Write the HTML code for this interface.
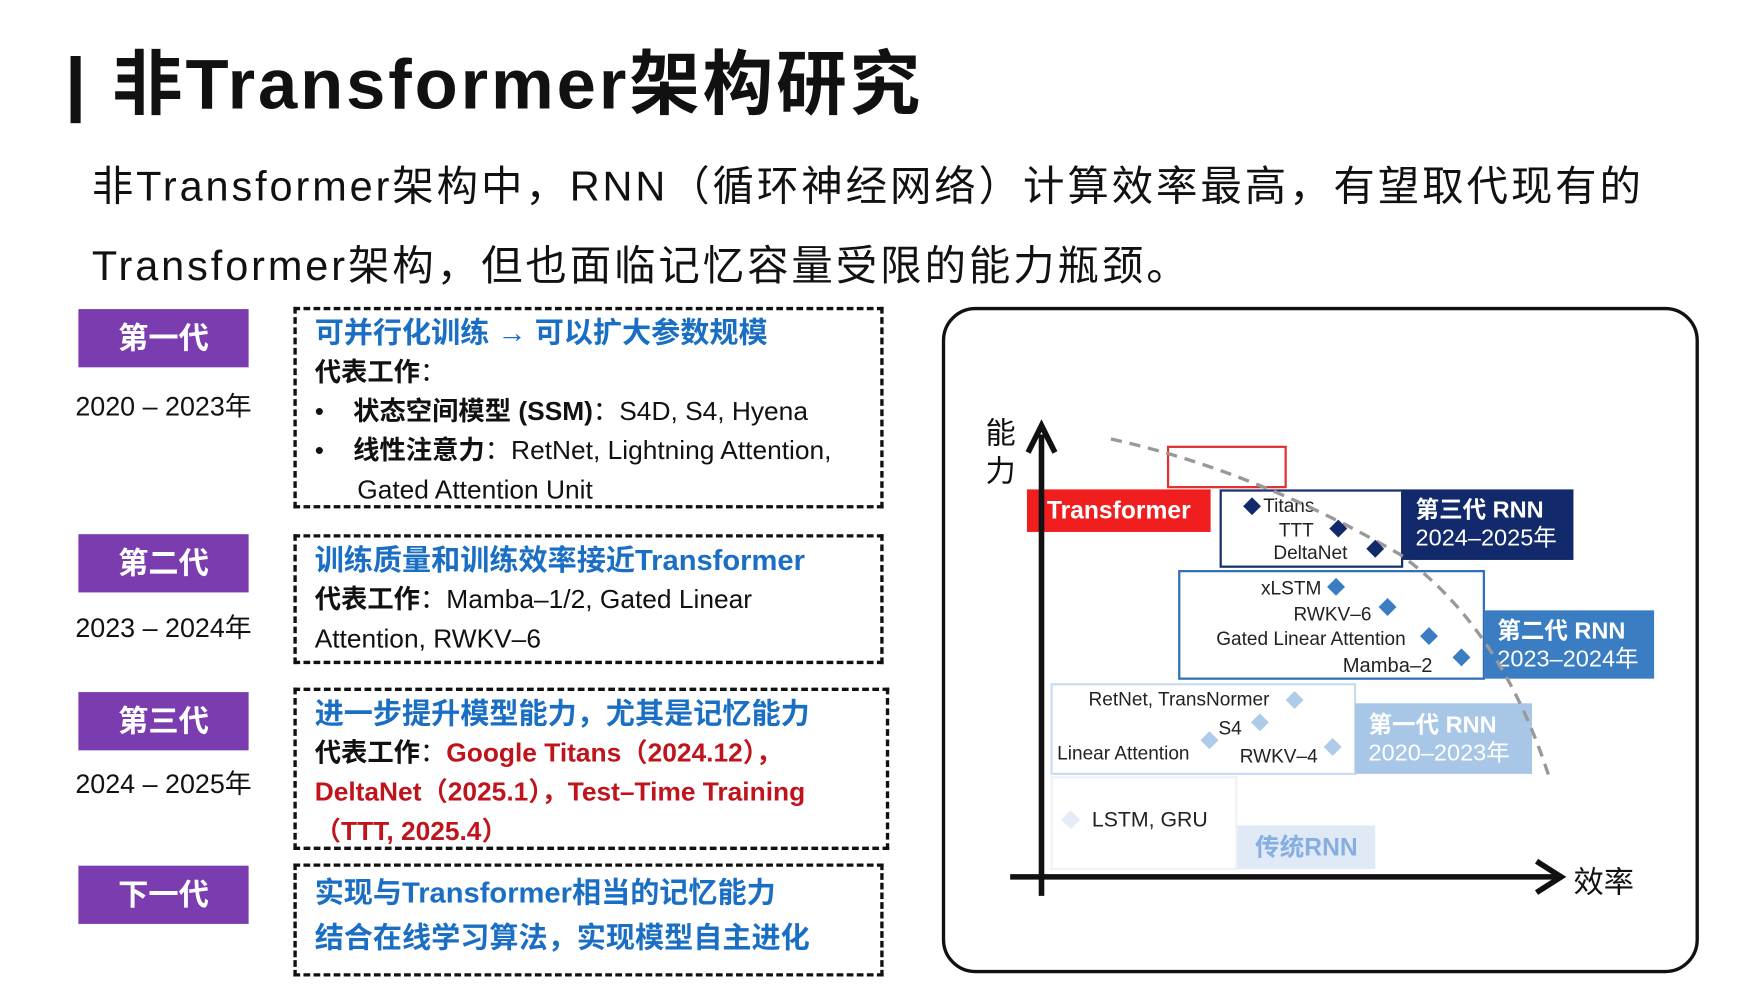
<!DOCTYPE html>
<html><head><meta charset="utf-8"><style>
html,body{margin:0;padding:0;background:#fff;overflow:hidden;width:1756px;height:990px}
#w{position:absolute;left:0;top:0;width:1568px;height:884px;transform:scale(1.11990);transform-origin:0 0;font-family:"Liberation Sans","Noto Sans CJK SC",sans-serif;color:#111}
.a{position:absolute;white-space:nowrap}
.lab{position:absolute;left:70px;width:152px;height:52px;background:#7a3cae;color:#fff;font-size:27px;font-weight:bold;text-align:center;line-height:52px}
.yr{position:absolute;left:46px;width:200px;text-align:center;font-size:24px}
.db{position:absolute;border:3px dashed #111;box-sizing:border-box;padding:3px 16px;font-size:23.5px;line-height:35px;white-space:nowrap}
.bl{color:#1a6fc4;font-weight:bold;font-size:26px}
.rd{color:#c0141c;font-weight:bold}
.bx{position:absolute;box-sizing:border-box;background:#fff}
.sm{position:absolute;font-size:17px;white-space:nowrap;color:#222}
</style></head><body><div id="w">
<div class="a" style="left:63px;top:50px;width:9px;height:60px;background:#111"></div>
<div class="a" style="left:100px;top:38px;font-size:63px;font-weight:bold;line-height:76px;letter-spacing:2.6px">非Transformer架构研究</div>
<div class="a" style="left:82px;top:143px;font-size:37px;line-height:48px;letter-spacing:2.6px">非Transformer架构中，RNN（循环神经网络）计算效率最高，有望取代现有的</div>
<div class="a" style="left:82px;top:214px;font-size:37px;line-height:48px;letter-spacing:2.6px">Transformer架构，但也面临记忆容量受限的能力瓶颈。</div>

<div class="lab" style="top:276px">第一代</div><div class="yr" style="top:343px">2020 – 2023年</div>
<div class="lab" style="top:477px">第二代</div><div class="yr" style="top:541px">2023 – 2024年</div>
<div class="lab" style="top:618px">第三代</div><div class="yr" style="top:680px">2024 – 2025年</div>
<div class="lab" style="top:773px">下一代</div>

<div class="db" style="left:262px;top:274px;width:527px;height:180px"><div class="bl">可并行化训练 → 可以扩大参数规模</div><div><b>代表工作</b>：</div><div>•&nbsp;&nbsp;&nbsp;&nbsp;<b>状态空间模型 (SSM)</b>：S4D, S4, Hyena</div><div>•&nbsp;&nbsp;&nbsp;&nbsp;<b>线性注意力</b>：RetNet, Lightning Attention,</div><div style="padding-left:38px">Gated Attention Unit</div></div>
<div class="db" style="left:262px;top:477px;width:527px;height:116px"><div class="bl">训练质量和训练效率接近Transformer</div><div><b>代表工作</b>：Mamba–1/2, Gated Linear</div><div>Attention, RWKV–6</div></div>
<div class="db" style="left:262px;top:614px;width:532px;height:145px"><div class="bl">进一步提升模型能力，尤其是记忆能力</div><div><b>代表工作</b>：<span class="rd">Google Titans（2024.12），</span></div><div class="rd">DeltaNet（2025.1），Test–Time Training</div><div class="rd">（TTT, 2025.4）</div></div>
<div class="db" style="left:262px;top:771px;width:527px;height:101px;line-height:40px"><div class="bl">实现与Transformer相当的记忆能力</div><div class="bl">结合在线学习算法，实现模型自主进化</div></div>

<div class="a" style="left:841px;top:274px;width:676px;height:595px;border:3px solid #111;border-radius:30px;box-sizing:border-box"></div>
<div class="a" style="left:880px;top:370px;font-size:27px;line-height:34px">能<br>力</div>
<div class="a" style="left:1405px;top:766px;font-size:27px">效率</div>

<div class="bx" style="left:938px;top:693px;width:167px;height:84px;border:2px solid #eef2f8"></div>
<div class="sm" style="left:975px;top:722px;font-size:19px">LSTM, GRU</div>
<div class="a" style="left:950px;top:726px;width:12px;height:12px;background:#e6ecf6;transform:rotate(45deg)"></div>
<div class="a" style="left:1105px;top:737px;width:123px;height:39px;background:#e0eaf6;color:#86aee0;font-size:22px;font-weight:bold;text-align:center;line-height:39px">传统RNN</div>

<div class="bx" style="left:938px;top:610px;width:273px;height:82px;border:2px solid #c9dcf0"></div>
<div class="a" style="left:1210px;top:628px;width:158px;height:63px;background:#a8c6e6;color:#fff;font-size:21px;font-weight:bold;line-height:25px;padding:7px 0 0 12px;box-sizing:border-box">第一代 RNN<br><span style="font-weight:normal">2020–2023年</span></div>
<div class="sm" style="left:972px;top:615px">RetNet, TransNormer</div>
<div class="sm" style="left:1088px;top:641px">S4</div>
<div class="sm" style="left:944px;top:663px">Linear Attention</div>
<div class="sm" style="left:1107px;top:666px">RWKV–4</div>

<div class="bx" style="left:1052px;top:509px;width:274px;height:98px;border:2px solid #2e6fb7"></div>
<div class="a" style="left:1325px;top:545px;width:152px;height:61px;background:#3a7dc2;color:#fff;font-size:21px;font-weight:bold;line-height:25px;padding:6px 0 0 12px;box-sizing:border-box">第二代 RNN<br><span style="font-weight:normal">2023–2024年</span></div>
<div class="sm" style="left:1126px;top:516px">xLSTM</div>
<div class="sm" style="left:1155px;top:539px">RWKV–6</div>
<div class="sm" style="left:1086px;top:561px">Gated Linear Attention</div>
<div class="sm" style="left:1199px;top:584px;font-size:18px">Mamba–2</div>

<div class="bx" style="left:1089px;top:437px;width:164px;height:70px;border:2px solid #1a2f6e"></div>
<div class="a" style="left:1252px;top:437px;width:153px;height:63px;background:#12296b;color:#fff;font-size:21px;font-weight:bold;line-height:25px;padding:6px 0 0 12px;box-sizing:border-box">第三代 RNN<br><span style="font-weight:normal">2024–2025年</span></div>
<div class="sm" style="left:1128px;top:442px">Titans</div>
<div class="sm" style="left:1142px;top:464px">TTT</div>
<div class="sm" style="left:1137px;top:484px">DeltaNet</div>

<div class="a" style="left:917px;top:437px;width:164px;height:38px;background:#f01e1e;color:#fff;font-size:22px;font-weight:bold;text-align:center;line-height:38px">Transformer</div>
<div class="a" style="left:1042px;top:398px;width:107px;height:38px;border:2px solid #e03030;box-sizing:border-box"></div>

<svg class="a" style="left:0;top:0" width="1568" height="884">
<path d="M992,392 Q1120,420 1250,495 Q1340,560 1383,693" fill="none" stroke="#999" stroke-width="3" stroke-dasharray="10,7"/>
<line x1="930" y1="800" x2="930" y2="388" stroke="#111" stroke-width="5"/>
<polyline points="918,404 930,380 942,404" fill="none" stroke="#111" stroke-width="5"/>
<line x1="902" y1="783" x2="1390" y2="783" stroke="#111" stroke-width="5"/>
<polyline points="1372,769 1394,783 1372,797" fill="none" stroke="#111" stroke-width="5"/>
<g fill="#12296b">
<polygon points="1118,444 1126,452 1118,460 1110,452"/><polygon points="1195,464 1203,472 1195,480 1187,472"/><polygon points="1228,482 1236,490 1228,498 1220,490"/></g>
<g fill="#3a7dc2">
<polygon points="1193,516 1201,524 1193,532 1185,524"/><polygon points="1239,534 1247,542 1239,550 1231,542"/><polygon points="1276,560 1284,568 1276,576 1268,568"/><polygon points="1305,579 1313,587 1305,595 1297,587"/></g>
<g fill="#aecbea">
<polygon points="1156,617 1164,625 1156,633 1148,625"/><polygon points="1125,637 1133,645 1125,653 1117,645"/><polygon points="1080,653 1088,661 1080,669 1072,661"/><polygon points="1190,659 1198,667 1190,675 1182,667"/></g>
</svg>
</div></body></html>
